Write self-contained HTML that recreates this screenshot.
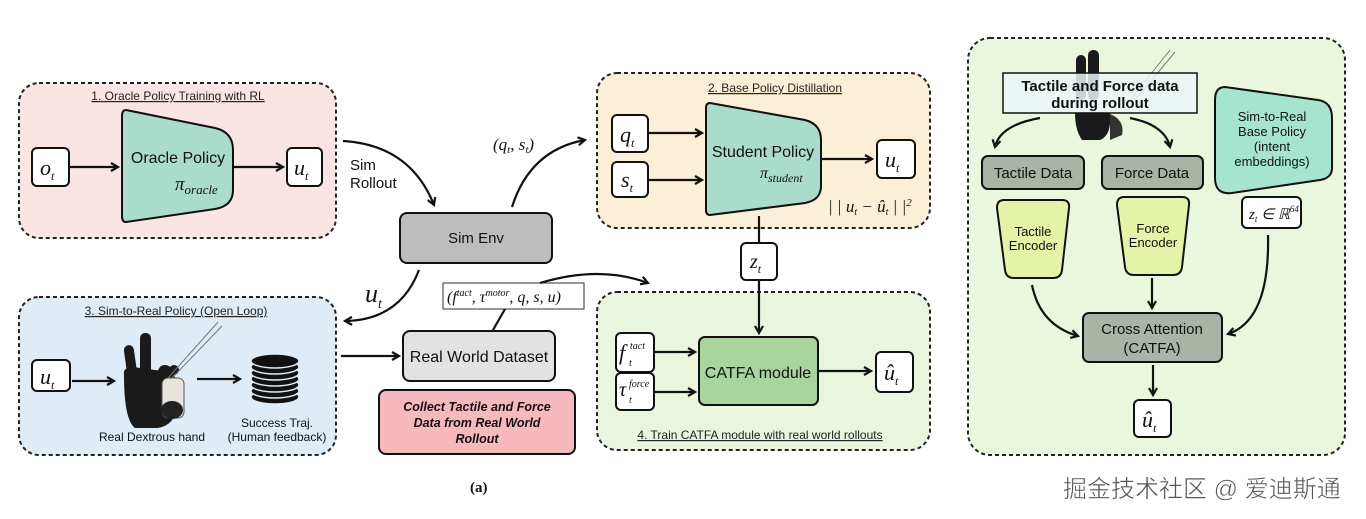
<!DOCTYPE html>
<html><head><meta charset="utf-8"><style>
html,body{margin:0;padding:0;background:#fff;}
svg{display:block;font-family:"Liberation Sans",sans-serif;}
.m{font-family:"Liberation Serif",serif;font-style:italic;}
</style></head><body>
<svg width="1366" height="519" viewBox="0 0 1366 519" xmlns="http://www.w3.org/2000/svg">
<defs>
<marker id="a" markerWidth="10" markerHeight="10" refX="8" refY="5" orient="auto" markerUnits="userSpaceOnUse"><path d="M1,1 L8,5 L1,9" fill="none" stroke="#111" stroke-width="2.2"/></marker>
</defs>
<g stroke="#222" stroke-width="2" stroke-dasharray="4,3">
<rect x="19" y="83" width="317" height="155" rx="20" fill="#fbe4e4"/>
<rect x="19" y="297" width="317" height="158" rx="20" fill="#deecf8"/>
<rect x="597" y="73" width="333" height="155" rx="20" fill="#fbf0d7"/>
<rect x="597" y="292" width="333" height="158" rx="20" fill="#e9f6dd"/>
<rect x="968" y="38" width="377" height="417" rx="22" fill="#ebf7dd"/>
</g>
<g font-size="12" fill="#222" text-anchor="middle" text-decoration="underline">
<text x="178" y="100">1. Oracle Policy Training with RL</text>
<text x="176" y="315">3. Sim-to-Real Policy (Open Loop)</text>
<text x="775" y="92">2. Base Policy Distillation</text>
<text x="760" y="439">4. Train CATFA module with real world rollouts</text>
</g>
<g stroke="#111" stroke-width="2" fill="#fff">
<rect x="32" y="148" width="37" height="38" rx="5"/>
<rect x="287" y="148" width="35" height="38" rx="5"/>
<rect x="32" y="360" width="38" height="31" rx="5"/>
<rect x="612" y="115" width="36" height="37" rx="5"/>
<rect x="612" y="162" width="36" height="35" rx="5"/>
<rect x="877" y="140" width="38" height="38" rx="5"/>
<rect x="741" y="243" width="36" height="37" rx="5"/>
<rect x="616" y="333" width="38" height="39" rx="5"/>
<rect x="616" y="373" width="38" height="37" rx="5"/>
<rect x="876" y="352" width="37" height="40" rx="5"/>
<rect x="1242" y="197" width="59" height="31" rx="5"/>
<rect x="1134" y="400" width="37" height="37" rx="5"/>
</g>
<path d="M126 110 L215 128 Q233 132 233 150 L233 190 Q233 206 215 209 L126 222 Q122 222 122 216 L122 116 Q122 110 126 110Z" fill="#a9dccb" stroke="#111" stroke-width="2"/>
<path d="M710 103 L805 120 Q821 124 821 140 L821 186 Q821 200 805 203 L710 215 Q706 215 706 210 L706 108 Q706 103 710 103Z" fill="#a9dccb" stroke="#111" stroke-width="2"/>
<path d="M1225 87 L1318 100 Q1332 102 1332 118 L1332 168 Q1332 178 1320 180 L1232 193 Q1215 195 1215 178 L1215 100 Q1215 87 1225 87Z" fill="#a5e4cf" stroke="#111" stroke-width="2"/>
<rect x="400" y="213" width="152" height="50" rx="7" fill="#bdbdbd" stroke="#111" stroke-width="2"/>
<rect x="403" y="331" width="152" height="50" rx="7" fill="#e2e2e2" stroke="#111" stroke-width="2"/>
<rect x="379" y="390" width="196" height="64" rx="7" fill="#f8b9bd" stroke="#111" stroke-width="2"/>
<rect x="699" y="337" width="119" height="68" rx="6" fill="#a7d59b" stroke="#111" stroke-width="2"/>
<rect x="982" y="156" width="102" height="33" rx="6" fill="#a9b3a6" stroke="#111" stroke-width="2"/>
<rect x="1102" y="156" width="101" height="33" rx="6" fill="#a9b3a6" stroke="#111" stroke-width="2"/>
<rect x="1083" y="313" width="139" height="49" rx="6" fill="#a9b3a6" stroke="#111" stroke-width="2"/>
<path d="M1004 200 L1062 200 Q1070 200 1069 208 L1062 270 Q1061 278 1053 278 L1014 278 Q1006 278 1005 270 L997 208 Q997 200 1004 200Z" fill="#e4f3a6" stroke="#111" stroke-width="2"/>
<path d="M1124 197 L1182 197 Q1190 197 1189 205 L1182 267 Q1181 275 1173 275 L1134 275 Q1126 275 1125 267 L1117 205 Q1117 197 1124 197Z" fill="#e4f3a6" stroke="#111" stroke-width="2"/>
<g fill="#1a1a1a">
<rect x="126" y="345" width="10" height="40" rx="5" transform="rotate(-8 131 365)"/>
<rect x="140" y="333" width="11" height="45" rx="5"/>
<path d="M124 375 Q122 365 140 368 L170 372 Q182 380 178 405 Q175 425 158 428 L135 428 Q124 420 124 375Z"/>
<circle cx="165" cy="372" r="7"/><circle cx="174" cy="370" r="5"/>
<rect x="1076" y="55" width="10" height="45" rx="5"/><rect x="1088" y="50" width="11" height="50" rx="5"/>
<path d="M1075 113 L1110 113 Q1112 135 1100 140 L1082 140 Q1075 130 1075 113Z"/>
</g>
<rect x="162" y="378" width="22" height="40" rx="6" fill="#e8e4dc" stroke="#555"/>
<ellipse cx="172" cy="410" rx="11" ry="9" fill="#222"/>
<path d="M168 378 L218 322 M172 378 L222 326" stroke="#777" stroke-width="1"/>
<path d="M1130 100 L1170 50 M1135 100 L1175 52" stroke="#777" stroke-width="1"/>
<path d="M1110 114 Q1125 120 1122 135 L1110 140Z" fill="#333"/>
<rect x="1003" y="73" width="194" height="40" fill="#eaf4f8" fill-opacity="0.85" stroke="#111" stroke-width="1.5"/>
<g fill="#111" stroke="#deecf8" stroke-width="1.5">
<ellipse cx="275" cy="397" rx="24" ry="7"/><ellipse cx="275" cy="391" rx="24" ry="7"/><ellipse cx="275" cy="385" rx="24" ry="7"/><ellipse cx="275" cy="379" rx="24" ry="7"/><ellipse cx="275" cy="373" rx="24" ry="7"/><ellipse cx="275" cy="367" rx="24" ry="7"/><ellipse cx="275" cy="361" rx="24" ry="7"/>
</g>
<rect x="443" y="283" width="141" height="26" fill="#fff" stroke="#333" stroke-width="1"/>
<g stroke="#111" stroke-width="2.2" fill="none" marker-end="url(#a)">
<path d="M70 167 L118 167"/><path d="M233 167 L283 167"/>
<path d="M72 381 L114 381"/><path d="M197 379 L240 379"/>
<path d="M649 133 L702 133"/><path d="M649 180 L702 180"/>
<path d="M822 159 L872 159"/>
<path d="M655 352 L695 352"/><path d="M655 392 L695 392"/>
<path d="M819 371 L871 371"/>
<path d="M759 280 L759 333"/>
<path d="M343 141 Q410 145 434 205"/>
<path d="M512 207 Q530 150 585 140"/>
<path d="M419 270 Q400 320 345 321"/>
<path d="M341 356 L399 356"/>
<path d="M540 283 Q600 265 648 283"/>
<path d="M1040 118 Q1000 125 995 147"/>
<path d="M1130 118 Q1165 125 1170 147"/>
<path d="M1032 285 Q1040 325 1078 336"/>
<path d="M1152 278 L1152 308"/>
<path d="M1268 235 Q1270 320 1228 334"/>
<path d="M1153 365 L1153 395"/>
</g>
<path d="M759 216 L759 243" stroke="#111" stroke-width="2.2"/>
<path d="M493 330 L505 309" stroke="#111" stroke-width="2.2"/>
<g fill="#111" font-size="16" text-anchor="middle">
<text x="178" y="163">Oracle Policy</text>
<text x="763" y="157">Student Policy</text>
<text x="476" y="243" font-size="15">Sim Env</text>
<text x="479" y="362">Real World Dataset</text>
<text x="758" y="378" font-size="16">CATFA module</text>
<text x="1033" y="178" font-size="15">Tactile Data</text>
<text x="1152" y="178" font-size="15">Force Data</text>
<text x="1152" y="334" font-size="15">Cross Attention</text>
<text x="1152" y="353" font-size="15">(CATFA)</text>
</g>
<g fill="#111" font-size="12" text-anchor="middle">
<text x="152" y="441">Real Dextrous hand</text>
<text x="277" y="427">Success Traj.</text>
<text x="277" y="441">(Human feedback)</text>
<text x="1033" y="236" font-size="13">Tactile</text><text x="1033" y="250" font-size="13">Encoder</text>
<text x="1153" y="233" font-size="13">Force</text><text x="1153" y="247" font-size="13">Encoder</text>
<text x="1272" y="121" font-size="13">Sim-to-Real</text><text x="1272" y="136" font-size="13">Base Policy</text><text x="1272" y="151" font-size="13">(intent</text><text x="1272" y="166" font-size="13">embeddings)</text>
</g>
<g fill="#111" font-size="12.5" font-weight="bold" font-style="italic" text-anchor="middle">
<text x="477" y="411">Collect Tactile and Force</text>
<text x="477" y="427">Data from Real World</text>
<text x="477" y="443">Rollout</text>
</g>
<g fill="#111" font-size="15" font-weight="bold" text-anchor="middle">
<text x="1100" y="91">Tactile and Force data</text>
<text x="1100" y="108">during rollout</text>
</g>
<text x="350" y="170" font-size="15" fill="#111">Sim</text>
<text x="350" y="188" font-size="15" fill="#111">Rollout</text>
<g class="m" fill="#111">
<text x="40" y="175" font-size="22">o<tspan font-size="12" dy="5">t</tspan></text>
<text x="294" y="175" font-size="22">u<tspan font-size="12" dy="5">t</tspan></text>
<text x="40" y="384" font-size="22">u<tspan font-size="12" dy="5">t</tspan></text>
<text x="620" y="142" font-size="22">q<tspan font-size="12" dy="5">t</tspan></text>
<text x="621" y="187" font-size="22">s<tspan font-size="12" dy="5">t</tspan></text>
<text x="885" y="167" font-size="22">u<tspan font-size="12" dy="5">t</tspan></text>
<text x="750" y="268" font-size="20">z<tspan font-size="12" dy="5">t</tspan></text>
<text x="884" y="380" font-size="22">û<tspan font-size="12" dy="5">t</tspan></text>
<text x="1142" y="427" font-size="22">û<tspan font-size="12" dy="5">t</tspan></text>
<text x="365" y="302" font-size="26">u<tspan font-size="14" dy="6">t</tspan></text>
<text x="175" y="190" font-size="19">π<tspan font-size="13" dy="4">oracle</tspan></text>
<text x="760" y="178" font-size="16">π<tspan font-size="12" dy="4">student</tspan></text>
<text x="493" y="150" font-size="17">(q<tspan font-size="11" dy="3">t</tspan><tspan dy="-3">, s</tspan><tspan font-size="11" dy="3">t</tspan><tspan dy="-3">)</tspan></text>
<text x="828" y="212" font-size="17">| | u<tspan font-size="10" dy="3">t</tspan><tspan dy="-3"> − û</tspan><tspan font-size="10" dy="3">t</tspan><tspan dy="-3"> | |</tspan><tspan font-size="11" dy="-6">2</tspan></text>
<text x="447" y="302" font-size="16">(f<tspan font-size="10" dy="-6">tact</tspan><tspan font-size="16" dy="6">, τ</tspan><tspan font-size="10" dy="-6">motor</tspan><tspan font-size="16" dy="6">, q, s, u)</tspan></text>
<text x="619" y="360" font-size="22">f</text><text x="630" y="349" font-size="10">tact</text><text x="629" y="366" font-size="10">t</text>
<text x="619" y="396" font-size="20">τ</text><text x="629" y="387" font-size="10">force</text><text x="629" y="403" font-size="10">t</text>
<text x="1249" y="219" font-size="15">z<tspan font-size="9" dy="3">t</tspan><tspan dy="-3"> ∈ ℝ</tspan><tspan font-size="9" dy="-7">64</tspan></text>
</g>
<text x="470" y="492" font-family="Liberation Serif,serif" font-weight="bold" font-size="15" fill="#111">(a)</text>
<text x="1063" y="497" font-family="'Liberation Sans','Noto Sans CJK SC',sans-serif" font-size="24" fill="#555" stroke="#fff" stroke-width="0.5">掘金技术社区 @ 爱迪斯通</text>
</svg>
</body></html>
